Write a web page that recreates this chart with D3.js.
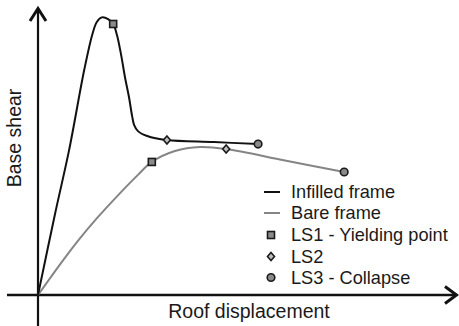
<!DOCTYPE html>
<html>
<head>
<meta charset="utf-8">
<script src="https://cdn.jsdelivr.net/npm/d3@7"></script>
<style>
  html, body { margin: 0; padding: 0; background: #fff; }
  svg { display: block; }
  text { font-family: "Liberation Sans", Arial, sans-serif; fill: #1a1a1a; }
</style>
</head>
<body>
<svg id="chart" width="459" height="326"></svg>
<script>
// Pushover capacity curves (normalised roof displacement vs base shear)
const infilledDisp  = [0, 4.0, 7.4, 11.0, 12.9, 14.0, 15.2, 16.7, 17.9, 18.8, 19.8, 20.7, 21.7, 22.4, 22.9, 23.8, 26.0, 30.7, 41.9, 52.4];
const infilledShear = [0, 27.8, 50.3, 78.1, 90.3, 94.8, 96.4, 95.8, 94.1, 90.3, 83.3, 75.7, 68.4, 62.2, 59.0, 56.9, 55.2, 53.8, 53.1, 52.4];
const bareDisp  = [0, 2.9, 6.0, 9.5, 14.3, 19.1, 23.8, 27.1, 32.6, 38.6, 44.8, 58.8, 72.9];
const bareShear = [0, 5.9, 12.1, 18.8, 27.1, 34.7, 41.7, 46.2, 50.0, 51.4, 50.7, 46.7, 42.7];

// Limit-state points on each curve
const limitStates = ["LS1", "LS2", "LS3"];
const infilledLSDisp  = [17.9, 30.7, 52.4];
const infilledLSShear = [94.1, 53.8, 52.4];
const bareLSDisp  = [27.1, 44.8, 72.9];
const bareLSShear = [46.2, 50.7, 42.7];

const legendLabels = ["Infilled frame", "Bare frame", "LS1 - Yielding point", "LS2", "LS3 - Collapse"];
const axisLabelX = "Roof displacement";
const axisLabelY = "Base shear";

const svg = d3.select("#chart");
const x = d3.scaleLinear().domain([0, 100]).range([38, 458]);
const y = d3.scaleLinear().domain([0, 100]).range([295, 7]);

const colInfilled = "#111";
const colBare = "#858585";

// Axes with open arrowheads
const axes = svg.append("g").attr("stroke", "#111").attr("fill", "none")
  .attr("stroke-linecap", "butt");
axes.append("line").attr("x1", 7).attr("x2", x(100) - 2).attr("y1", y(0)).attr("y2", y(0))
  .attr("stroke-width", 2.6);
axes.append("path")
  .attr("d", `M${x(100) - 13},${y(0) - 8.5}L${x(100) - 1.5},${y(0)}L${x(100) - 13},${y(0) + 8.5}`)
  .attr("stroke-width", 3).attr("stroke-linejoin", "miter");
axes.append("line").attr("x1", x(0)).attr("x2", x(0)).attr("y1", 326).attr("y2", y(100) + 2)
  .attr("stroke-width", 2.2);
axes.append("path")
  .attr("d", `M${x(0) - 8},${y(100) + 14}L${x(0)},${y(100) + 1.5}L${x(0) + 8},${y(100) + 14}`)
  .attr("stroke-width", 3).attr("stroke-linejoin", "miter");

// Curves
const line = d3.line().x(d => x(d[0])).y(d => y(d[1])).curve(d3.curveCatmullRom.alpha(0.5));
svg.append("path").datum(d3.zip(bareDisp, bareShear))
  .attr("d", line).attr("fill", "none").attr("stroke", colBare).attr("stroke-width", 2);
svg.append("path").datum(d3.zip(infilledDisp, infilledShear))
  .attr("d", line).attr("fill", "none").attr("stroke", colInfilled).attr("stroke-width", 2);

// Marker shapes per limit state
function drawMarker(g, ls, cx, cy) {
  if (ls === "LS1") {
    g.append("rect").attr("x", cx - 3.5).attr("y", cy - 3.5).attr("width", 7).attr("height", 7)
      .attr("fill", "#8a8a8a").attr("stroke", "#1a1a1a").attr("stroke-width", 1.6);
  } else if (ls === "LS2") {
    g.append("path").attr("d", `M${cx},${cy - 4}L${cx + 3.5},${cy}L${cx},${cy + 4}L${cx - 3.5},${cy}Z`)
      .attr("fill", "#bdbdbd").attr("stroke", "#1a1a1a").attr("stroke-width", 1.6);
  } else {
    g.append("circle").attr("cx", cx).attr("cy", cy).attr("r", 3.8)
      .attr("fill", "#8a8a8a").attr("stroke", "#1a1a1a").attr("stroke-width", 1.6);
  }
}
const marks = svg.append("g");
limitStates.forEach((ls, i) => {
  drawMarker(marks, ls, x(infilledLSDisp[i]), y(infilledLSShear[i]));
  drawMarker(marks, ls, x(bareLSDisp[i]), y(bareLSShear[i]));
});

// Legend
const legend = svg.append("g");
const rowY = [192, 213, 235, 256.5, 277.5];
const swX = 271, textX = 291;
legendLabels.forEach((label, i) => {
  const cy = rowY[i];
  if (i === 0 || i === 1) {
    legend.append("line").attr("x1", swX - 7).attr("x2", swX + 9).attr("y1", cy).attr("y2", cy)
      .attr("stroke", i === 0 ? colInfilled : colBare).attr("stroke-width", 2);
  } else {
    drawMarker(legend, limitStates[i - 2], swX, cy);
  }
  legend.append("text").attr("x", textX).attr("y", cy + 6.4)
    .attr("font-size", 18.2).text(label);
});

// Axis titles
svg.append("text").attr("x", 249).attr("y", 318).attr("text-anchor", "middle")
  .attr("font-size", 19.5).text(axisLabelX);
svg.append("text").attr("transform", "translate(21,138) rotate(-90)")
  .attr("text-anchor", "middle").attr("font-size", 19.5).text(axisLabelY);
</script>
</body>
</html>
